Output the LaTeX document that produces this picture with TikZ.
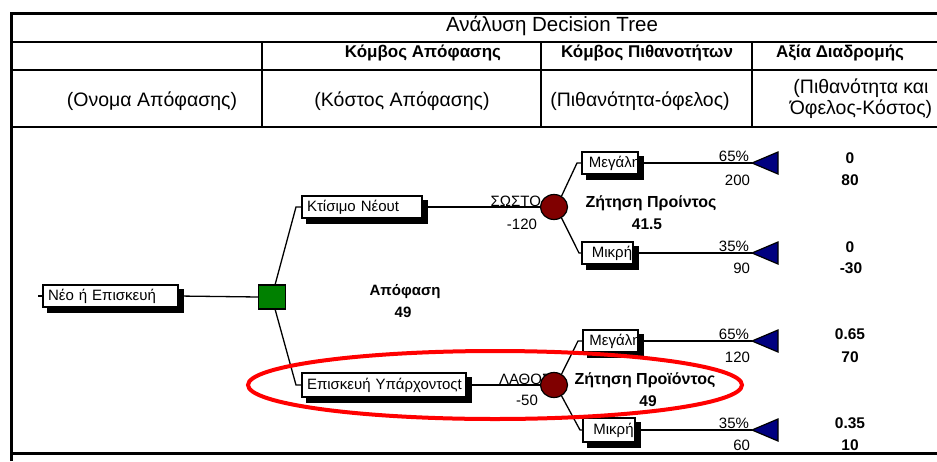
\documentclass[tikz,border=0pt]{standalone}
\usepackage{fontspec}
\setmainfont{Liberation Sans}
\usetikzlibrary{shapes.geometric}
\definecolor{decgreen}{RGB}{0,128,0}
\definecolor{chancered}{RGB}{128,0,0}
\definecolor{endblue}{RGB}{0,0,128}
\tikzset{
  every node/.style={inner sep=0pt, outer sep=0pt},
  frameline/.style={line width=3pt},
  rowline/.style={line width=1.8pt},
  hdrbold/.style={font=\fontsize{17}{20}\selectfont\bfseries},
  hdrtext/.style={font=\fontsize{19.5}{21}\selectfont, align=center},
  titletext/.style={font=\fontsize{20.5}{22}\selectfont},
  boxshadow/.style={preaction={draw=black, fill=black, line width=1.8pt,
    transform canvas={xshift=5pt, yshift=-5pt}}},
  lblbox/.style={draw, line width=1.8pt, fill=white, anchor=west, boxshadow,
    minimum width=#1, text width=#1-10pt, inner xsep=5pt, align=left,
    minimum height=22pt, font=\fontsize{15}{17}\selectfont},
  cliplbl/.style={draw, line width=1.8pt, fill=white, anchor=west, boxshadow,
    minimum width=#1, minimum height=22pt},
  cliptext/.style={path picture={\node[anchor=west, font=\fontsize{15}{17}\selectfont]
    at ([xshift=4.5pt]path picture bounding box.west) {#1};}},
  decnode/.style={draw, line width=1.4pt, fill=decgreen, minimum width=27pt, minimum height=24pt},
  chnode/.style={draw, ellipse, line width=1.2pt, fill=chancered, minimum width=27pt, minimum height=25pt},
  endtri/.style={draw, line width=1.2pt, fill=endblue},
  edge/.style={line width=1.3pt},
  small/.style={font=\fontsize{15}{17}\selectfont},
  smallb/.style={font=\fontsize{15.5}{17}\selectfont\bfseries},
  nameb/.style={font=\fontsize{16}{18}\selectfont\bfseries},
  midb/.style={font=\fontsize{15}{17}\selectfont\bfseries},
  mark oval/.style={draw=red, line width=4pt},
}
\begin{document}
\begin{tikzpicture}[x=1pt, y=-1pt]
  \useasboundingbox (0,0) rectangle (937,461);
  \fill[white] (0,0) rectangle (937,461);

  % ---- table frame and rules ----
  \draw[rowline] (11,42) -- (937,42);
  \draw[rowline] (11,70) -- (937,70);
  \draw[rowline] (11,127) -- (937,127);
  \draw[rowline] (262,42) -- (262,127);
  \draw[rowline] (541,42) -- (541,127);
  \draw[rowline] (752,42) -- (752,127);
  \draw[frameline] (11,461) -- (11,13) -- (937,13);
  \draw[frameline] (11,453) -- (937,453);

  % ---- headings ----
  \node[titletext] (title) at (552,26) {Ανάλυση Decision Tree};
  \node[hdrbold] (h1) at (423,53) {Κόμβος Απόφασης};
  \node[hdrbold] (h2) at (647,53) {Κόμβος Πιθανοτήτων};
  \node[hdrbold] (h3) at (840,53) {Αξία Διαδρομής};
  \node[hdrtext] (s0) at (152,101) {(Ονομα Απόφασης)};
  \node[hdrtext] (s1) at (402,101) {(Κόστος Απόφασης)};
  \node[hdrtext] (s2) at (640,101) {(Πιθανότητα-όφελος)};
  \node[hdrtext] (s3) at (861,99) {(Πιθανότητα και\\[0pt] Όφελος-Κόστος)};

  % ---- decision part ----
  \node[lblbox=135pt] (B0) at (43,296) {\mbox{Νέο ή Επισκευή}};
  \node[decnode] (D) at (272,297) {};
  \node[lblbox=120pt] (B1) at (302,207) {\mbox{Κτίσιμο Νέουt}};
  \node[lblbox=164pt, minimum height=24pt] (B2) at (302,385) {\mbox{Επισκευή Υπάρχοντοςt}};
  \coordinate (tick) at (38,296);
  \draw[edge] (tick) -- (B0.west);
  \draw[edge] (B0.east) -- (D.west);
  \draw[edge] ([xshift=3pt]D.north) -- ([xshift=-6pt]B1.west) -- (B1.west);
  \draw[edge] ([xshift=3pt]D.south) -- ([xshift=-6pt]B2.west) -- (B2.west);
  \node[midb] (dname) at (405,292) {Απόφαση};
  \node[midb] (dval) at (403,312) {49};

  % ---- upper chance node ----
  \node[small, anchor=base east] (ok) at (541,206) {ΣΩΣΤΟ};
  \node[chnode] (C1) at (554,207) {};
  \draw[edge] (B1.east) -- (C1.west);
  \node[small] (c1cost) at (522,224) {-120};
  \node[cliplbl=56pt, cliptext={Μεγάλη}] (U1) at (582,163) {};
  \node[cliplbl=51pt, cliptext={Μικρή}] (L1) at (582,253) {};
  \draw[edge] (C1.55) -- ([xshift=-5pt]U1.west) -- (U1.west);
  \draw[edge] (C1.-55) -- ([xshift=-3pt]L1.west) -- (L1.west);
  \node[nameb] (c1name) at (651,203) {Ζήτηση Προίντος};
  \node[smallb] (c1val) at (647,224) {41.5};
  \coordinate (T1) at (752,163);
  \coordinate (T2) at (752,253);
  \draw[edge] (U1.east) -- (T1);
  \draw[edge] (L1.east) -- (T2);
  \draw[endtri] (T1) -- ++(26,-11) -- ++(0,22) -- cycle;
  \draw[endtri] (T2) -- ++(26,-11) -- ++(0,22) -- cycle;
  \node[small, anchor=base east] (p1) at (749,161) {65\%};
  \node[small, anchor=east] (v1) at (750,180) {200};
  \node[small, anchor=base east] (p2) at (749,251) {35\%};
  \node[small, anchor=east] (v2) at (750,268) {90};
  \node[smallb] (r1a) at (850,158) {0};
  \node[smallb] (r1b) at (850,180) {80};
  \node[smallb] (r2a) at (850,247) {0};
  \node[smallb] (r2b) at (851,268) {-30};

  % ---- lower chance node ----
  \node[small, anchor=base west] (wrong) at (499,384) {ΛΑΘΟΣ};
  \node[chnode] (C2) at (554,385) {};
  \draw[edge] (B2.east) -- (C2.west);
  \node[small] (c2cost) at (527,400) {-50};
  \node[cliplbl=55pt, cliptext={Μεγάλη}] (U2) at (583,341) {};
  \node[cliplbl=52pt, minimum height=24pt, cliptext={Μικρή}] (L2) at (583,430) {};
  \draw[edge] (C2.55) -- ([xshift=-5pt]U2.west) -- (U2.west);
  \draw[edge] (C2.-55) -- ([xshift=-3pt]L2.west) -- (L2.west);
  \node[nameb] (c2name) at (645,380) {Ζήτηση Προϊόντος};
  \node[smallb] (c2val) at (648,401) {49};
  \coordinate (T3) at (752,341);
  \coordinate (T4) at (752,430);
  \draw[edge] (U2.east) -- (T3);
  \draw[edge] (L2.east) -- (T4);
  \draw[endtri] (T3) -- ++(26,-11) -- ++(0,22) -- cycle;
  \draw[endtri] (T4) -- ++(26,-11) -- ++(0,22) -- cycle;
  \node[small, anchor=base east] (p3) at (749,339) {65\%};
  \node[small, anchor=east] (v3) at (750,357) {120};
  \node[small, anchor=base east] (p4) at (749,428) {35\%};
  \node[small, anchor=east] (v4) at (750,445) {60};
  \node[smallb] (r3a) at (850,334) {0.65};
  \node[smallb] (r3b) at (850,357) {70};
  \node[smallb] (r4a) at (850,423) {0.35};
  \node[smallb] (r4b) at (850,445) {10};

  % ---- highlight around the second option ----
  \draw[mark oval] (495,385) ellipse [x radius=247, y radius=34];
\end{tikzpicture}
\end{document}
